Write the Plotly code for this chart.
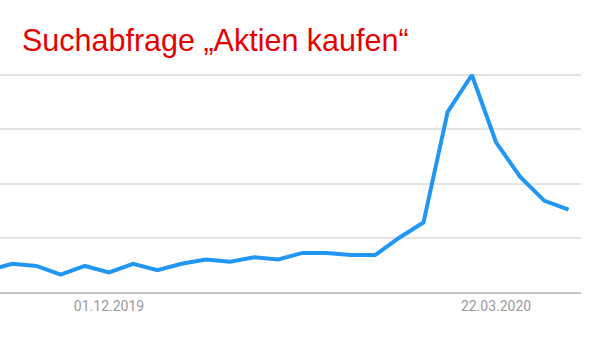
import plotly.graph_objects as go

dates = ["2019-10-27", "2019-11-03", "2019-11-10", "2019-11-17", "2019-11-24",
         "2019-12-01", "2019-12-08", "2019-12-15", "2019-12-22", "2019-12-29",
         "2020-01-05", "2020-01-12", "2020-01-19", "2020-01-26", "2020-02-02",
         "2020-02-09", "2020-02-16", "2020-02-23", "2020-03-01", "2020-03-08",
         "2020-03-15", "2020-03-22", "2020-03-29", "2020-04-05", "2020-04-12"]
values = [10, 13, 12, 8, 12, 9, 13, 10, 13, 15, 14, 16, 15, 18, 18, 17, 17,
          25, 32, 83, 100, 69, 53, 42, 38]
tick_dates = ["2019-12-01", "2020-03-22"]
tick_labels = ["01.12.2019", "22.03.2020"]
title_text = "Suchabfrage „Aktien kaufen“"

fig = go.Figure()
fig.add_trace(go.Scatter(
    x=dates, y=values, mode="lines",
    line=dict(color="#2196F3", width=4, shape="linear"),
    hoverinfo="skip", showlegend=False,
))

fig.update_layout(
    width=600, height=349,
    margin=dict(l=0, r=19, t=64, b=57),
    paper_bgcolor="white", plot_bgcolor="white",
    title=dict(
        text=title_text,
        font=dict(family="Liberation Sans, Arial, sans-serif",
                  size=30.5, color="#e50000"),
        xref="container", yref="container",
        x=22 / 600, xanchor="left",
        y=1 - 40 / 349, yanchor="middle",
    ),
    xaxis=dict(
        type="date",
        range=["2019-10-30 11:00", "2020-04-15 14:00"],
        tickvals=tick_dates, ticktext=tick_labels,
        showgrid=False, zeroline=False,
        showline=True, linecolor="#c4c4c4", linewidth=2,
        ticks="", tickfont=dict(family="Roboto, sans-serif", size=14, color="#9a9a9a"),
    ),
    yaxis=dict(
        range=[0, 105.07],
        tickvals=[25, 50, 75, 100],
        showticklabels=False,
        showgrid=True, gridcolor="#e3e3e3", gridwidth=1.5,
        zeroline=False, showline=False, ticks="",
    ),
)

fig.write_html("out.html")
